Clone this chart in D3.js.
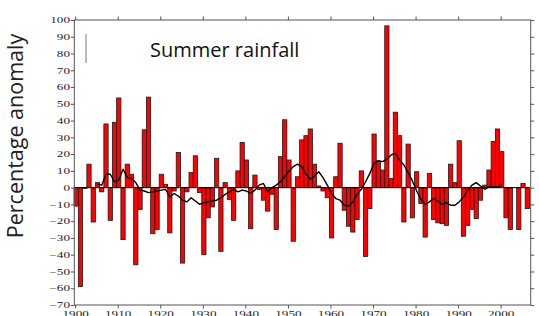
<!DOCTYPE html>
<html>
<head>
<meta charset="utf-8">
<script src="https://cdn.jsdelivr.net/npm/d3@7"></script>
<style>
  body { margin: 0; background: #fff; }
  svg { display: block; }
</style>
</head>
<body>
<div id="chart"></div>
<script>
// summer rainfall, percentage anomaly per year (2003 has no bar)
var years = d3.range(1900, 2007);
var rainfall = [
  -11, -59, -0.5, 14, -20.5, 3, -2.5, 38, -19.5, 39,
  53.5, -31, 14, 8, -46, -13, 34.5, 54, -27.5, -25,
  8, 2, -27, -2, 21, -45, -2.5, 9, 19, -3,
  -40, -18, -11.5, 17.5, -38, 3, -7, -19.5, 10, 27,
  16.5, -24.5, 7.5, -1, -7.5, -14, -4, -25, 18.5, 40.5,
  16.5, -32, 6.5, 28.5, 31, 35, 14, 1, -2, -6,
  -30, 6.5, 26.5, -13.5, -23, -26.5, -19, 10, -41, -12.5,
  32, 16, 10.5, 96.5, 5.5, 45, 31, -20.5, 26, -18,
  9.5, -9.5, -29.5, 8.5, -19, -21, -21.5, -22.5, 14, 3,
  28, -29, -22.5, -13, -18.5, -7.5, 1.5, 10.5, 27.5, 35,
  21.5, -18, -25, null, -25, 2.5, -12.5
];

// smoothed curve
var meanYears = d3.range(1905, 2001);
var runningMean = [
  2, 1.5, 8, 8, 3.5, 4.5, 11, 6, 5.5, 3,
  -1.5, -2, -3, -2.5, -2, -1.5, -1, -5.5, -3.5, -5,
  -7.5, -8.5, -6, -8, -10, -9, -8.5, -8, -7.5, -6,
  -4, -2.5, -1, -2.5, -1.5, -2, -3.5, -1.5, 1.5, 2.5,
  -2.5, 0, 1.5, 3.5, 6.5, 10, 12.5, 14, 12.5, 8,
  5, 7, 9.5, 6, 1.5, -3.5, -6.5, -7.5, -10.5, -11,
  -8.5, -4, -1, 3.5, 8.5, 14.5, 16, 15.5, 17, 19.5,
  20.5, 16.5, 13.5, 9, 4, -2, -7, -10, -8.5, -6.5,
  -8, -10, -9, -10.5, -10.5, -8.5, -5.5, -1.5, 1.5, 3,
  1, -1, 0.5, 0.5, 0.5, 1.5
];

var yTicks = d3.range(-70, 101, 10);
var xTicks = d3.range(1900, 2001, 10);
var title = "Summer rainfall";
var yLabel = "Percentage anomaly";

var width = 539, height = 316;
var plotLeft = 74.3, plotRight = 530.7, plotTop = 20, plotBottom = 305;
var stretch = 1.55; // tick labels are drawn wide in the original

var svg = d3.select("#chart").append("svg")
  .attr("width", width)
  .attr("height", height);

var x = d3.scaleLinear().domain([1899.8, 2007.05]).range([plotLeft, plotRight]);
var y = d3.scaleLinear().domain([-70, 100]).range([plotBottom, plotTop]);

var bars = years.map(function(d, i) { return { year: d, value: rainfall[i] }; })
  .filter(function(d) { return d.value != null; });

svg.append("g").selectAll("rect")
  .data(bars)
  .enter().append("rect")
  .attr("x", function(d) { return x(d.year - 0.25); })
  .attr("width", function(d) { return x(d.year + 0.75) - x(d.year - 0.25); })
  .attr("y", function(d) { return y(Math.max(0, d.value)); })
  .attr("height", function(d) { return Math.abs(y(d.value) - y(0)); })
  .attr("fill", "#ff0000")
  .attr("stroke", "#1a1a1a")
  .attr("stroke-width", 0.8);

// zero line
svg.append("line")
  .attr("x1", plotLeft).attr("x2", x(2006.75))
  .attr("y1", y(0)).attr("y2", y(0))
  .attr("stroke", "#000").attr("stroke-width", 1);

var line = d3.line()
  .x(function(d, i) { return x(meanYears[i] + 0.25); })
  .y(function(d) { return y(d); });

svg.append("path")
  .datum(runningMean)
  .attr("d", line)
  .attr("fill", "none")
  .attr("stroke", "#000")
  .attr("stroke-width", 1.4)
  .attr("stroke-linejoin", "round");

// frame
svg.append("rect")
  .attr("x", plotLeft).attr("y", plotTop)
  .attr("width", plotRight - plotLeft).attr("height", plotBottom - plotTop)
  .attr("fill", "none")
  .attr("stroke", "#555")
  .attr("stroke-width", 1);

function styleAxis(g) {
  g.select(".domain").remove();
  g.selectAll(".tick line").attr("stroke", "#555");
  g.selectAll("text")
    .attr("font-family", "'Liberation Serif', serif")
    .attr("font-size", 8.5)
    .attr("fill", "#222");
}

svg.append("g")
  .attr("transform", "translate(" + plotLeft + ",0)")
  .call(d3.axisLeft(y).tickValues(yTicks).tickSize(3.5).tickFormat(d3.format("d")))
  .call(styleAxis)
  .call(function(g) {
    g.selectAll("text")
      .attr("x", -4.3 / stretch)
      .attr("transform", "scale(" + stretch + ",1)");
  });

svg.append("g")
  .attr("transform", "translate(" + plotRight + ",0)")
  .call(d3.axisRight(y).tickValues(yTicks).tickSize(3.5).tickFormat(""))
  .call(styleAxis);

svg.append("g")
  .attr("transform", "translate(0," + plotTop + ")")
  .call(d3.axisTop(x).tickValues(xTicks).tickSize(3.5).tickFormat(""))
  .call(styleAxis);

// bottom labels run off the lower edge, as in the original
svg.append("g")
  .attr("transform", "translate(0," + plotBottom + ")")
  .call(d3.axisBottom(x).tickValues(xTicks).tickSize(3.5).tickPadding(2.8).tickFormat(d3.format("d")))
  .call(styleAxis)
  .call(function(g) {
    g.selectAll("text")
      .attr("x", 0)
      .attr("transform", "scale(" + stretch + ",1)");
  });

// short grey mark left of the title
svg.append("line")
  .attr("x1", 86).attr("x2", 86)
  .attr("y1", 34).attr("y2", 63)
  .attr("stroke", "#777").attr("stroke-width", 1);

svg.append("text")
  .attr("x", 150).attr("y", 57)
  .attr("font-family", "'Open Sans', sans-serif")
  .attr("font-size", 20)
  .attr("fill", "#111")
  .text(title);

svg.append("text")
  .attr("transform", "translate(22.5," + 136 + ") rotate(-90)")
  .attr("text-anchor", "middle")
  .attr("font-family", "'Open Sans', sans-serif")
  .attr("font-size", 21.5)
  .attr("fill", "#222")
  .text(yLabel);
</script>
</body>
</html>
